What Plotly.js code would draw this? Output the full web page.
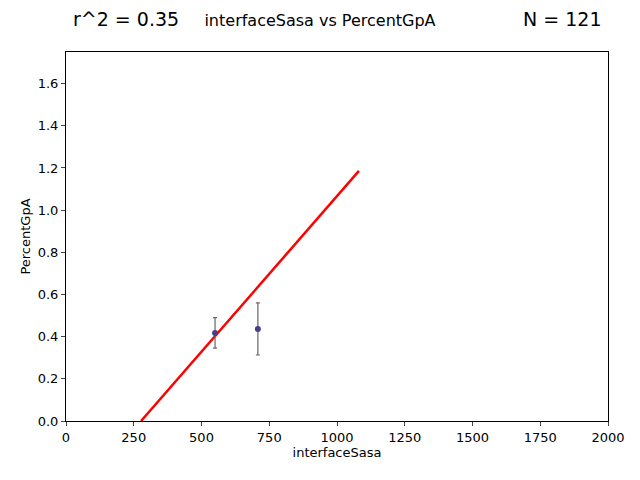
<!DOCTYPE html>
<html>
<head>
<script src="https://cdn.plot.ly/plotly-3.0.1.min.js"></script>
<style>body{margin:0}</style>
</head>
<body>
<div id="plot" style="width:640px;height:480px"></div>
<script>
// binned means with std error bars
let sasa = [550, 708];
let gpa = [0.417, 0.436];
let gpaErrPlus = [0.073, 0.124];
let gpaErrMinus = [0.071, 0.123];

// fitted line endpoints
let fitX = [277, 1081];
let fitY = [0.0, 1.186];

let points = {
  x: sasa, y: gpa, type: 'scatter', mode: 'markers',
  marker: {color: '#483d8b', size: 6},
  error_y: {type: 'data', symmetric: false, array: gpaErrPlus, arrayminus: gpaErrMinus,
            color: '#666666', thickness: 1.2, width: 2},
  showlegend: false
};
let fit = {
  x: fitX, y: fitY, type: 'scatter', mode: 'lines',
  line: {color: 'red', width: 2.5}, showlegend: false
};

let axisFont = {family: 'DejaVu Sans', size: 13, color: 'black'};
let layout = {
  width: 640, height: 480,
  margin: {l: 66, r: 32, t: 52, b: 59},
  paper_bgcolor: 'white', plot_bgcolor: 'white',
  font: {family: 'DejaVu Sans', size: 13, color: 'black'},
  title: {text: 'interfaceSasa vs PercentGpA', font: {size: 16}, x: 0.5, xanchor: 'center',
          yref: 'paper', y: 1.008, yanchor: 'bottom'},
  xaxis: {
    range: [0, 2000], tickvals: [0, 250, 500, 750, 1000, 1250, 1500, 1750, 2000],
    showgrid: false, zeroline: false, showline: true, mirror: true, linecolor: 'black',
    ticks: 'outside', ticklen: 4, tickfont: axisFont,
    title: {text: 'interfaceSasa', font: axisFont, standoff: 4}
  },
  yaxis: {
    range: [0, 1.75], tickvals: [0, 0.2, 0.4, 0.6, 0.8, 1.0, 1.2, 1.4, 1.6],
    ticktext: ['0.0', '0.2', '0.4', '0.6', '0.8', '1.0', '1.2', '1.4', '1.6'],
    showgrid: false, zeroline: false, showline: true, mirror: true, linecolor: 'black',
    ticks: 'outside', ticklen: 4, tickfont: axisFont,
    title: {text: 'PercentGpA', font: axisFont, standoff: 4}
  },
  annotations: [
    {text: 'r^2 = 0.35', xref: 'paper', yref: 'paper', x: 0.01, y: 1.055, xanchor: 'left', yanchor: 'bottom', showarrow: false, font: {size: 19}},
    {text: 'N = 121', xref: 'paper', yref: 'paper', x: 0.99, y: 1.055, xanchor: 'right', yanchor: 'bottom', showarrow: false, font: {size: 19}}
  ]
};

Plotly.newPlot('plot', [fit, points], layout, {displayModeBar: false});
</script>
</body>
</html>
